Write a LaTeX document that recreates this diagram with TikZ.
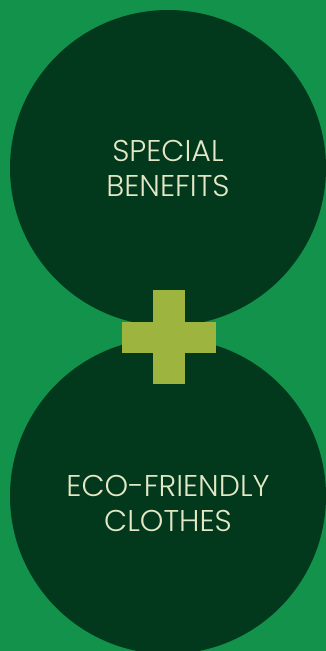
\documentclass[tikz,border=0pt]{standalone}
\usepackage{fontspec}
\setmainfont{Poppins}[UprightFont=* Light]
\definecolor{bggreen}{HTML}{12924A}
\definecolor{darkgreen}{HTML}{02391D}
\definecolor{plusgreen}{HTML}{9DB53E}
\definecolor{cream}{HTML}{E4E8C6}
\begin{document}
\begin{tikzpicture}[x=1pt,y=-1pt,
  disc/.style={fill=darkgreen},
  label/.style={text=cream,align=center,inner sep=0pt,font=\fontsize{30}{35}\selectfont},
  plusbar/.style={fill=plusgreen}]
\useasboundingbox (0,0) rectangle (326,651);
\fill[bggreen] (0,0) rectangle (326,651);
\begin{scope}
\clip (0,0) rectangle (326,651);
\fill[disc] (168,168) circle (158);
\fill[disc] (168,496) circle (158);
\end{scope}
\node[label,anchor=base] (top) at (168,196) {SPECIAL\\BENEFITS};
\node[label,anchor=base] (bottom) at (168,531) {ECO-FRIENDLY\\CLOTHES};
\fill[plusbar] (152.5,290) rectangle (184.5,384);
\fill[plusbar] (121.5,321.5) rectangle (215.5,353);
\end{tikzpicture}
\end{document}
